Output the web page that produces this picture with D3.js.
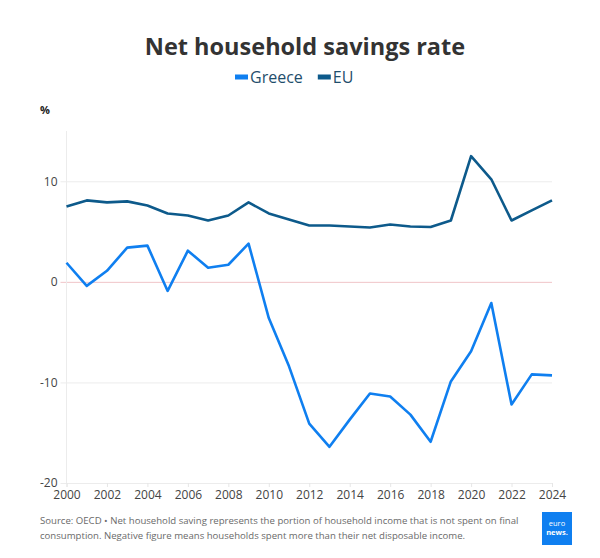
<!DOCTYPE html>
<html>
<head>
<meta charset="utf-8">
<script src="https://cdn.jsdelivr.net/npm/d3@7"></script>
<style>
  body { margin: 0; background: #fff; }
  svg { display: block; font-family: "Open Sans", sans-serif; }
</style>
</head>
<body>
<svg id="chart"></svg>
<script>
// data
const years = d3.range(2000, 2025);
const greece = [1.9, -0.4, 1.1, 3.4, 3.6, -0.9, 3.1, 1.4, 1.7, 3.8,
  -3.6, -8.4, -14.1, -16.4, -13.7, -11.1, -11.4, -13.2, -15.9, -9.9,
  -6.9, -2.1, -12.2, -9.2, -9.3];
const eu = [7.5, 8.1, 7.9, 8.0, 7.6, 6.8, 6.6, 6.1, 6.6, 7.9,
  6.8, 6.2, 5.6, 5.6, 5.5, 5.4, 5.7, 5.5, 5.45, 6.1,
  12.5, 10.2, 6.1, 7.1, 8.1];
const yTicks = [-20, -10, 0, 10];
const xTicks = d3.range(2000, 2025, 2);

const series = [
  { name: "Greece", values: greece, color: "#0f7ff0" },
  { name: "EU", values: eu, color: "#0d5a8b" }
];

const width = 600, height = 558;
const marginTop = 131, marginRight = 48, marginBottom = 75, marginLeft = 66.5;

const svg = d3.select("#chart")
    .attr("width", width)
    .attr("height", height);

const x = d3.scaleLinear()
    .domain([2000, 2024])
    .range([marginLeft, width - marginRight]);

const y = d3.scaleLinear()
    .domain([-20, 15])
    .range([height - marginBottom, marginTop]);

// title
svg.append("text")
    .attr("x", 305).attr("y", 55)
    .attr("text-anchor", "middle")
    .attr("font-size", 23.5).attr("font-weight", 700)
    .attr("fill", "#333")
    .text("Net household savings rate");

// legend
const legend = svg.append("g").attr("transform", "translate(235,77)");
let lx = 0;
series.forEach(s => {
  legend.append("rect")
      .attr("x", lx).attr("y", -2.5)
      .attr("width", 13).attr("height", 5)
      .attr("fill", s.color);
  const t = legend.append("text")
      .attr("x", lx + 15).attr("y", 6)
      .attr("font-size", 16)
      .attr("fill", "#1f4e6c")
      .text(s.name);
  lx += 15 + t.node().getComputedTextLength() + 15;
});

// unit label
svg.append("text")
    .attr("x", 40).attr("y", 114)
    .attr("font-size", 11).attr("font-weight", 700)
    .attr("fill", "#222")
    .text("%");

// y grid + labels
const yAxis = svg.append("g")
    .attr("transform", `translate(${marginLeft},0)`)
    .call(d3.axisLeft(y).tickValues(yTicks).tickSize(6).tickPadding(3)
        .tickFormat(d => String(d)))
    .call(g => g.select(".domain").remove())
    .call(g => g.selectAll(".tick line")
        .attr("x2", width - marginRight - marginLeft)
        .attr("x1", -6)
        .attr("stroke", d => d === 0 ? "#f0c4c8" : "#ececec"))
    .call(g => g.selectAll(".tick text")
        .attr("font-size", 12).attr("fill", "#444")
        .attr("font-family", "Open Sans, sans-serif"));

// vertical axis line
svg.append("line")
    .attr("x1", marginLeft).attr("x2", marginLeft)
    .attr("y1", marginTop).attr("y2", height - marginBottom)
    .attr("stroke", "#ececec");

// x axis
svg.append("g")
    .attr("transform", `translate(0,${height - marginBottom})`)
    .call(d3.axisBottom(x).tickValues(xTicks).tickFormat(d3.format("d")).tickSize(4).tickPadding(3))
    .call(g => g.select(".domain").attr("stroke", "#ececec"))
    .call(g => g.selectAll(".tick line").attr("stroke", "#e6e6e6"))
    .call(g => g.selectAll(".tick text")
        .attr("font-size", 12).attr("fill", "#444")
        .attr("font-family", "Open Sans, sans-serif"));

// lines
const line = d3.line()
    .x((d, i) => x(years[i]))
    .y(d => y(d));

svg.append("g")
    .attr("fill", "none")
    .attr("stroke-width", 2.6)
    .attr("stroke-linejoin", "round")
    .selectAll("path")
    .data(series.slice().reverse())
    .join("path")
    .attr("stroke", d => d.color)
    .attr("d", d => line(d.values));

// footer
const foot = svg.append("text")
    .attr("x", 40).attr("y", 524)
    .attr("font-size", 9.6)
    .attr("fill", "#6a6a6a");
foot.append("tspan").attr("x", 40)
    .text("Source: OECD \u2022 Net household saving represents the portion of household income that is not spent on final");
foot.append("tspan").attr("x", 40).attr("dy", 15)
    .text("consumption. Negative figure means households spent more than their net disposable income.");

// logo
const logo = svg.append("g").attr("transform", "translate(542,512)");
logo.append("rect").attr("width", 30).attr("height", 33).attr("fill", "#0f7ff0");
logo.append("text").attr("x", 15).attr("y", 14)
    .attr("text-anchor", "middle").attr("font-size", 7.5)
    .attr("fill", "#fff").text("euro");
logo.append("text").attr("x", 15).attr("y", 23)
    .attr("text-anchor", "middle").attr("font-size", 7.5).attr("font-weight", 700)
    .attr("fill", "#fff").text("news.");
</script>
</body>
</html>
